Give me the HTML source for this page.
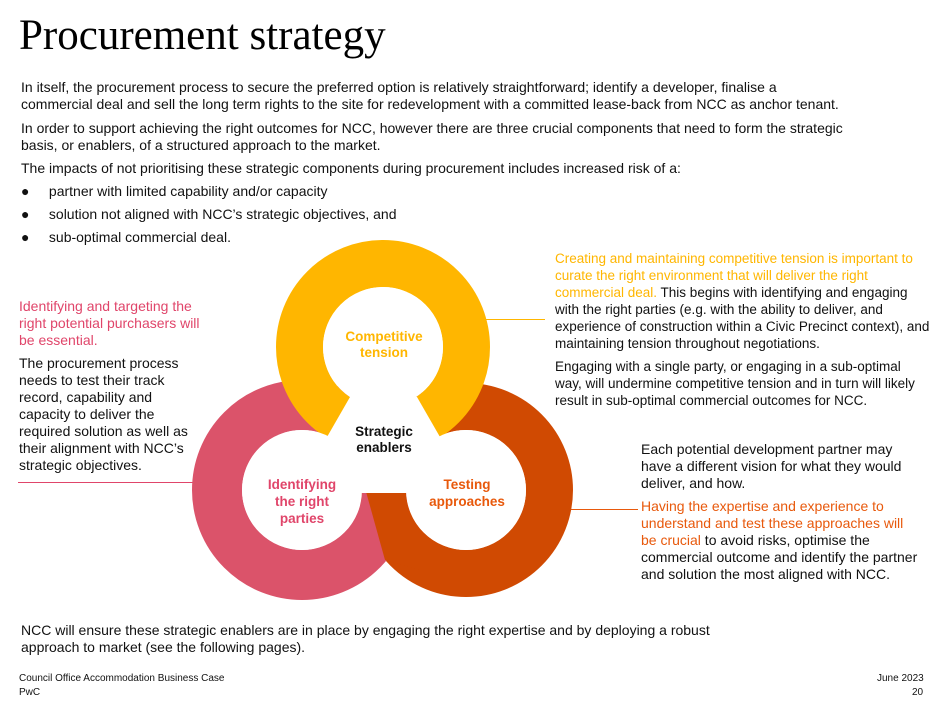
<!DOCTYPE html>
<html><head><meta charset="utf-8"><style>
body{margin:0;width:942px;height:691px;background:#fff;position:relative;overflow:hidden;font-family:"Liberation Sans",Arial,sans-serif;color:#111}
.t{position:absolute;font-size:14px;line-height:17px;white-space:nowrap}
.y{color:#ffb600}.p{color:#e0456a}.o{color:#e8590c}
h1{position:absolute;left:19px;top:11px;margin:0;font-family:"Liberation Serif",serif;font-weight:normal;font-size:43px;color:#000}
</style></head><body>
<h1>Procurement strategy</h1>
<div class="t" style="left:21px;top:79px">In itself, the procurement process to secure the preferred option is relatively straightforward; identify a developer, finalise a<br>commercial deal and sell the long term rights to the site for redevelopment with a committed lease-back from NCC as anchor tenant.</div>
<div class="t" style="left:21px;top:120px">In order to support achieving the right outcomes for NCC, however there are three crucial components that need to form the strategic<br>basis, or enablers, of a structured approach to the market.</div>
<div class="t" style="left:21px;top:160px">The impacts of not prioritising these strategic components during procurement includes increased risk of a:</div>
<div class="t" style="left:21px;top:183px">●&nbsp;&nbsp;&nbsp;&nbsp;&nbsp;partner with limited capability and/or capacity</div>
<div class="t" style="left:21px;top:206px">●&nbsp;&nbsp;&nbsp;&nbsp;&nbsp;solution not aligned with NCC’s strategic objectives, and</div>
<div class="t" style="left:21px;top:229px">●&nbsp;&nbsp;&nbsp;&nbsp;&nbsp;sub-optimal commercial deal.</div>

<div class="t p" style="left:19px;top:298px">Identifying and targeting the<br>right potential purchasers will<br>be essential.</div>
<div class="t" style="left:19px;top:355px">The procurement process<br>needs to test their track<br>record, capability and<br>capacity to deliver the<br>required solution as well as<br>their alignment with NCC’s<br>strategic objectives.</div>
<div style="position:absolute;left:18px;top:482px;width:182px;height:1px;background:#e0456a"></div>

<div class="t" style="left:555px;top:250px;font-size:13.5px"><span class="y">Creating and maintaining competitive tension is important to<br>curate the right environment that will deliver the right<br>commercial deal.</span> This begins with identifying and engaging<br>with the right parties (e.g. with the ability to deliver, and<br>experience of construction within a Civic Precinct context), and<br>maintaining tension throughout negotiations.</div>
<div class="t" style="left:555px;top:358px;font-size:13.5px">Engaging with a single party, or engaging in a sub-optimal<br>way, will undermine competitive tension and in turn will likely<br>result in sub-optimal commercial outcomes for NCC.</div>
<div style="position:absolute;left:485px;top:319px;width:60px;height:1px;background:#ffb600"></div>

<div class="t" style="left:641px;top:441px">Each potential development partner may<br>have a different vision for what they would<br>deliver, and how.</div>
<div class="t" style="left:641px;top:498px"><span class="o">Having the expertise and experience to<br>understand and test these approaches will<br>be crucial</span> to avoid risks, optimise the<br>commercial outcome and identify the partner<br>and solution the most aligned with NCC.</div>
<div style="position:absolute;left:570px;top:509px;width:68px;height:1px;background:#e8590c"></div>

<svg style="position:absolute;left:0;top:0" width="942" height="691">
<defs><clipPath id="c"><polygon points="360,470 420,470 420,570 385,560"/></clipPath></defs>
<circle cx="466" cy="490" r="83.5" fill="none" stroke="#d04a02" stroke-width="47"/>
<circle cx="302" cy="490" r="85" fill="none" stroke="#db536a" stroke-width="50"/>
<circle cx="383" cy="347" r="83.5" fill="none" stroke="#ffb600" stroke-width="47"/>
<circle cx="466" cy="490" r="83.5" fill="none" stroke="#d04a02" stroke-width="47" clip-path="url(#c)"/>
<polygon points="350,397 417,397 440,437 407,493 360,493 327,437" fill="#fff"/>
<circle cx="383" cy="347" r="60" fill="#fff"/>
<circle cx="302" cy="490" r="60" fill="#fff"/>
<circle cx="466" cy="490" r="60" fill="#fff"/>
<g font-family="Liberation Sans,Arial,sans-serif" font-weight="bold" font-size="13.5" text-anchor="middle">
<text x="384" y="341" fill="#ffb600">Competitive</text><text x="384" y="357" fill="#ffb600">tension</text>
<text x="384" y="436" fill="#111">Strategic</text><text x="384" y="452" fill="#111">enablers</text>
<text x="302" y="489" fill="#e0456a">Identifying</text><text x="302" y="506" fill="#e0456a">the right</text><text x="302" y="523" fill="#e0456a">parties</text>
<text x="467" y="489" fill="#e8590c">Testing</text><text x="467" y="506" fill="#e8590c">approaches</text>
</g>
</svg>

<div class="t" style="left:21px;top:622px">NCC will ensure these strategic enablers are in place by engaging the right expertise and by deploying a robust<br>approach to market (see the following pages).</div>
<div class="t" style="left:19px;top:670px;font-size:10px">Council Office Accommodation Business Case</div>
<div class="t" style="left:877px;top:670px;font-size:10px">June 2023</div>
<div class="t" style="left:19px;top:684px;font-size:10px">PwC</div>
<div class="t" style="left:912px;top:684px;font-size:10px">20</div>
</body></html>
